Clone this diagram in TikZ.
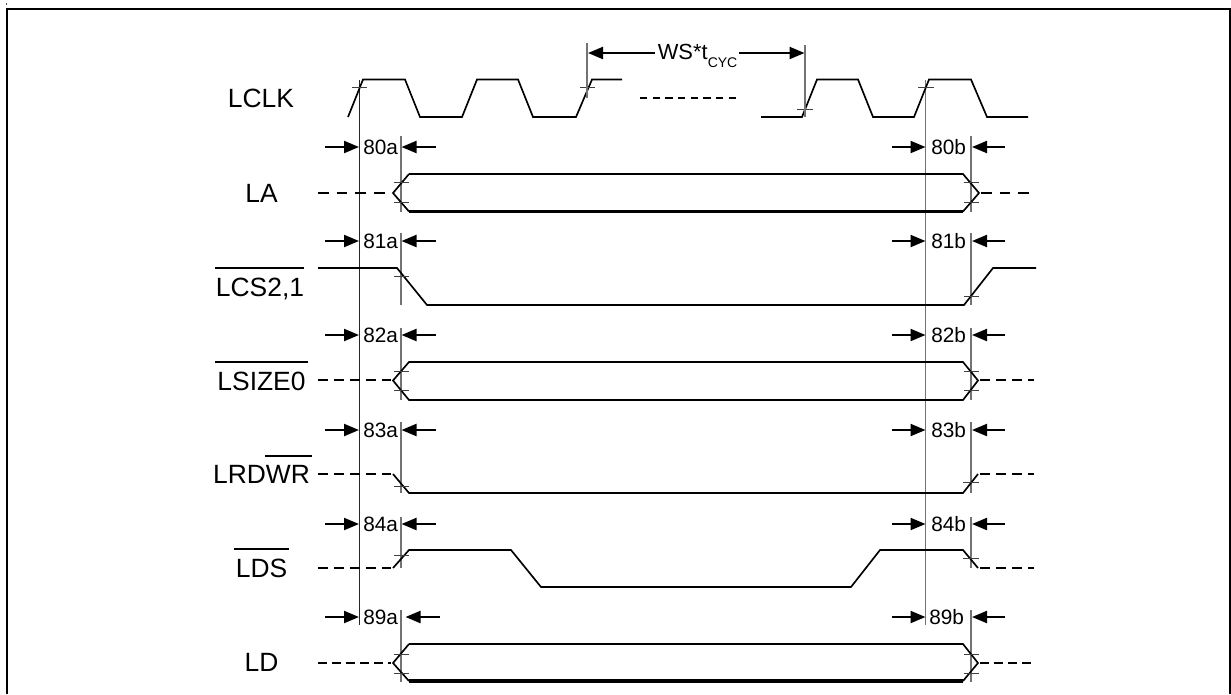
\documentclass[tikz,border=0pt]{standalone}
\usepackage{fontspec}
\setmainfont{Liberation Sans}
\usetikzlibrary{arrows.meta}
\newcommand{\sigfont}{\fontsize{19.8pt}{20pt}\selectfont}
\newcommand{\dimfont}{\fontsize{15.6pt}{16pt}\selectfont}
\newcommand{\wsfont}{\fontsize{16.4pt}{17pt}\selectfont}
\newcommand{\subfont}{\fontsize{10.5pt}{11pt}\selectfont}
\tikzset{
  x=0.75pt,y=-0.75pt,
  signal/.style={line width=1.25pt,black,line join=miter},
  heavy/.style={line width=2.4pt,black},
  dashA/.style={line width=1.5pt,black,dash pattern=on 8pt off 6pt},
  dashB/.style={line width=2.1pt,black,dash pattern=on 7.5pt off 4.5pt},
  dashC/.style={line width=1.2pt,black,dash pattern=on 6.5pt off 4pt},
  dashM/.style={line width=0.9pt,black,dash pattern=on 5.5pt off 4pt},
  tick/.style={line width=0.7pt,black!75},
  refdark/.style={line width=0.7pt,black!85},
  refgray/.style={line width=0.95pt,black!55},
  dimarrow/.style={line width=1.6pt,black,-{Triangle[length=11.25pt,width=9pt]}},
  siglabel/.style={anchor=base,inner sep=0pt,font=\sigfont},
  dimlabel/.style={anchor=base west,inner sep=0pt,font=\dimfont},
  over/.style={line width=1.1pt,black}
}
% \dimrow{y}{text a}{text b}{x of b text}{x of right-hand arrow on a side}{top}{bottom}
\newcommand{\dimrow}[7]{%
  \draw[dimarrow] (325,#1) -- (359,#1);
  \draw[dimarrow] (#5+34,#1) -- (#5,#1);
  \draw[dimarrow] (892,#1) -- (925.5,#1);
  \draw[dimarrow] (1005,#1) -- (972,#1);
  \node[dimlabel] (a#2) at (363,#1+7) {#2};
  \node[dimlabel] (b#3) at (#4,#1+7) {#3};
  \draw[refgray] (401,#6) -- (401,#7);
  \draw[refgray] (971,#6) -- (971,#7);
}
\newcommand{\tickat}[3]{\draw[tick] (#1,#3) -- (#2,#3);}
\begin{document}
\begin{tikzpicture}
\useasboundingbox (0,0) rectangle (1231,694);
\fill[white] (0,0) rectangle (1231,694);
% frame
\draw[line width=1.9pt,black] (7,694) -- (7,9) -- (1230,9) -- (1230,694);
\fill[black!70] (5.5,2.5) rectangle (7,4.5);

% reference verticals
\draw[refdark] (359.5,80) -- (359.5,625);
\draw[refgray] (925.7,80) -- (925.7,625);

% LCLK
\node[siglabel] (lclk) at (261,107) {LCLK};
\draw[signal] (348,117) -- (363,79.5) -- (405,79.5) -- (420,117) -- (462,117) -- (477,79.5)
  -- (518,79.5) -- (533,117) -- (576,117) -- (592,79.5) -- (622,79.5);
\draw[dashM] (640,98) -- (737,98);
\draw[signal] (761,117) -- (802,117) -- (817,79.5) -- (858,79.5) -- (873,117) -- (914,117)
  -- (929,79.5) -- (971,79.5) -- (987,117) -- (1028,117);
\tickat{352}{367}{87}
\tickat{580}{595}{87}
\tickat{797}{813}{109}
\tickat{918}{934}{87}
\draw[refgray] (587,43) -- (587,98);
\draw[refgray] (805,45) -- (805,117);
% WS*t_CYC
\node[anchor=base west,inner sep=0pt,font=\wsfont] (ws) at (657.5,59) {WS*t};
\node[anchor=base west,inner sep=0pt,font=\subfont] (cyc) at (707.5,67) {CYC};
\draw[dimarrow] (655,53) -- (588,53);
\draw[dimarrow] (739,53) -- (804.5,53);

% LA
\dimrow{147}{80a}{80b}{931}{401.5}{136}{212}
\node[siglabel] (la) at (261.5,202) {LA};
\draw[dashA] (318,193) -- (391,193);
\draw[signal] (409,174) -- (393,193) -- (409,211.5);
\draw[signal] (409,174) -- (963,174) -- (979,193) -- (963,211.5);
\draw[heavy] (409,211.5) -- (963,211.5);
\draw[dashA] (981,193) -- (1035,193);
\tickat{394}{409}{182}\tickat{394}{409}{202}
\tickat{964}{979}{182}\tickat{964}{979}{202}

% LCS2,1
\dimrow{241}{81a}{81b}{931}{401.5}{233}{305}
\node[siglabel] (lcs) at (260,296) {LCS2,1};
\draw[over] (215,268) -- (304,268);
\draw[signal] (318,268) -- (397,268) -- (427,305) -- (964,305) -- (993,268) -- (1036,268);
\tickat{394}{409}{276}
\tickat{964}{979}{296}

% LSIZE0
\dimrow{335}{82a}{82b}{931}{401.5}{328}{400}
\node[siglabel] (lsize) at (261.5,390) {LSIZE0};
\draw[over] (215,362) -- (308,362);
\draw[dashB] (318,380) -- (391,380);
\draw[signal] (409,362) -- (393,380.5) -- (409,400) -- (963,400) -- (978,380.5) -- (963,362) -- cycle;
\draw[dashB] (980,380) -- (1034,380);
\tickat{394}{409}{371}\tickat{394}{409}{390}
\tickat{964}{979}{371}\tickat{964}{979}{390}

% LRDWR
\dimrow{430}{83a}{83b}{931}{401.5}{422}{493}
\node[siglabel] (lrdwr) at (261.5,483) {LRDWR};
\draw[over] (265,456) -- (312,456);
\draw[dashB] (318,474) -- (391,474);
\draw[signal] (393,474) -- (409,493) -- (963,493) -- (978,474);
\draw[dashB] (980,474) -- (1034,474);
\tickat{394}{409}{486}
\tickat{963}{979}{482}

% LDS
\dimrow{524}{84a}{84b}{931}{401.5}{517}{568}
\node[siglabel] (lds) at (261.5,577) {LDS};
\draw[over] (234,549) -- (289,549);
\draw[dashB] (318,568) -- (391,568);
\draw[signal] (393,568) -- (409,550) -- (511,550) -- (541,587) -- (851,587) -- (880,550)
  -- (963,550) -- (978,568);
\draw[dashB] (980,568) -- (1034,568);
\tickat{394}{409}{555}
\tickat{963}{979}{558}

% LD
\dimrow{617}{89a}{89b}{929}{405.5}{610}{682}
\node[siglabel] (ld) at (261.5,671) {LD};
\draw[dashC] (318,663) -- (391,663);
\draw[signal] (409,644) -- (393,663) -- (409,681);
\draw[signal] (409,644) -- (963,644) -- (978,663) -- (963,681);
\draw[heavy] (409,681) -- (963,681);
\draw[dashC] (980,663) -- (1034,663);
\tickat{394}{409}{654}\tickat{394}{409}{673}
\tickat{964}{979}{654}\tickat{964}{979}{673}
\end{tikzpicture}
\end{document}
